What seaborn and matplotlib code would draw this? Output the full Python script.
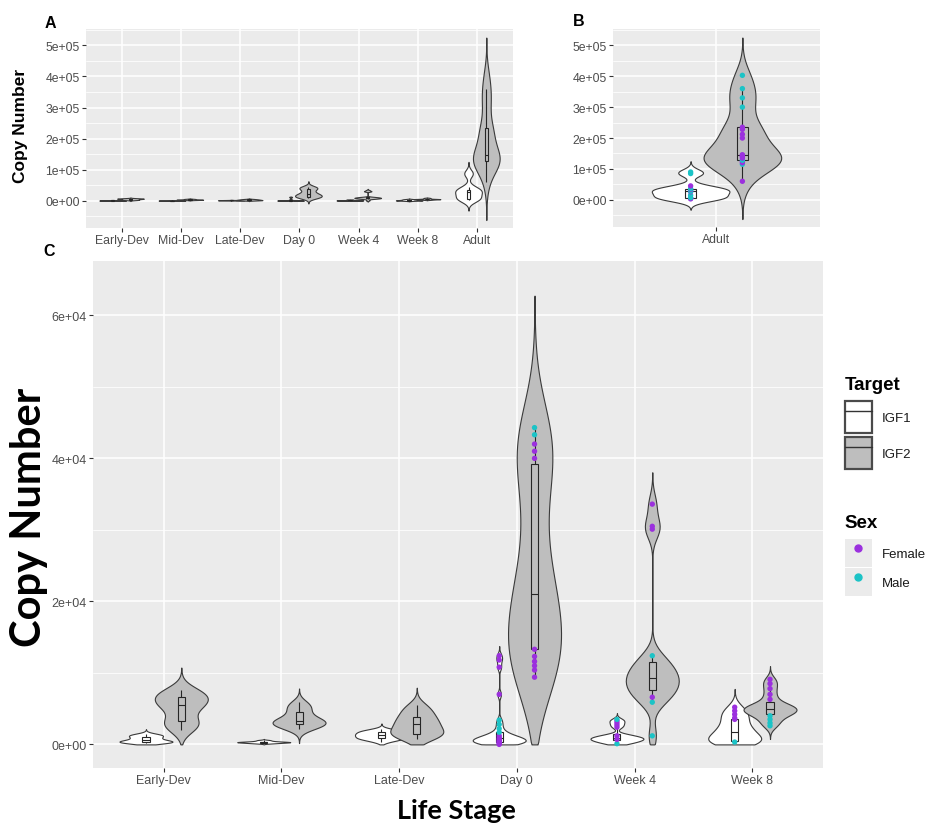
import numpy as np
import pandas as pd
import matplotlib
matplotlib.use("Agg")
import matplotlib.pyplot as plt
from matplotlib.collections import PolyCollection
from matplotlib.patches import Patch
from matplotlib.lines import Line2D
from matplotlib.ticker import MultipleLocator, FuncFormatter
import seaborn as sns

stages = ["Early-Dev", "Mid-Dev", "Late-Dev", "Day 0", "Week 4", "Week 8", "Adult"]
targets = ["IGF1", "IGF2"]
sexes = ["Female", "Male"]

# copy numbers
# sex codes: F = female, M = male, . = not recorded (no point drawn)
early_igf1 = [250, 300, 330, 360, 400, 600, 800, 1000, 1200, 1300, 1400]
early_igf2 = [2000, 2800, 3000, 3300, 5000, 5400, 5600, 6200, 6600, 6900, 7200, 7600]
mid_igf1 = [150, 200, 250, 280, 300, 320, 350, 380, 420, 500, 600]
mid_igf2 = [2100, 2500, 2700, 2800, 3000, 3200, 3300, 3500, 3900, 4500, 5000, 5400, 5900]
late_igf1 = [400, 700, 800, 900, 1000, 1200, 1300, 1400, 1500, 1700, 1800, 1900, 2100]
late_igf2 = [800, 1200, 1400, 1500, 1800, 2200, 2800, 3000, 3300, 3900, 4300, 4900, 5500]

day0_igf1 = [0, 60, 120, 180, 250, 300, 330, 380, 450, 520, 600, 650, 700, 800, 850,
             900, 1000, 1100, 1200, 1300, 1500, 1700, 2200, 2800, 3400, 7000, 10800,
             11800, 12400]
day0_igf1_sex = "F.F.F..F.F..F..F..F..MMMMFFFF"
day0_igf2 = [9400, 10400, 11000, 11600, 12300, 13300, 15500, 17000, 18500, 20000, 21100,
             23000, 26000, 30000, 34000, 39200, 40000, 41000, 42000, 43300, 44300]
day0_igf2_sex = "FFFFFF..........FFFMM"

week4_igf1 = [100, 200, 300, 400, 500, 600, 700, 750, 800, 850, 900, 1000, 1100, 1200,
              1300, 1400, 2400, 2700, 3000, 3300, 3500]
week4_igf1_sex = "M.....F......F..FFFFM"
week4_igf2 = [1200, 5900, 6600, 7000, 7600, 8200, 8600, 9000, 9300, 9800, 10500, 11000,
              11500, 12400, 30100, 30500, 33600]
week4_igf2_sex = "MMF..........MFFF"

week8_igf1 = [200, 330, 400, 450, 500, 700, 900, 1300, 1800, 2000, 2300, 2600, 3500,
              3700, 4200, 4700, 5200]
week8_igf1_sex = ".M..........FFFFF"
week8_igf2 = [2600, 3000, 3500, 4000, 4200, 4400, 4600, 4700, 4800, 5000, 5200, 5300,
              5500, 5600, 6300, 7000, 7800, 8500, 9100]
week8_igf2_sex = "MMMM..........FFFFF"

adult_igf1 = [3000, 5000, 6000, 7000, 15000, 26000, 28000, 31000, 34000, 36000, 45000,
              85000, 90000]
adult_igf1_sex = "FFFMMFMMFMFMM"
adult_igf2 = [60000, 115000, 120000, 125000, 128000, 135000, 140000, 143000, 146000,
              200000, 212000, 228000, 235000, 300000, 330000, 360000, 403000]
adult_igf2_sex = "FMFFMFFFFFFFFMMMM"

groups = [
    ("Early-Dev", "IGF1", early_igf1, None), ("Early-Dev", "IGF2", early_igf2, None),
    ("Mid-Dev", "IGF1", mid_igf1, None), ("Mid-Dev", "IGF2", mid_igf2, None),
    ("Late-Dev", "IGF1", late_igf1, None), ("Late-Dev", "IGF2", late_igf2, None),
    ("Day 0", "IGF1", day0_igf1, day0_igf1_sex), ("Day 0", "IGF2", day0_igf2, day0_igf2_sex),
    ("Week 4", "IGF1", week4_igf1, week4_igf1_sex), ("Week 4", "IGF2", week4_igf2, week4_igf2_sex),
    ("Week 8", "IGF1", week8_igf1, week8_igf1_sex), ("Week 8", "IGF2", week8_igf2, week8_igf2_sex),
    ("Adult", "IGF1", adult_igf1, adult_igf1_sex), ("Adult", "IGF2", adult_igf2, adult_igf2_sex),
]

sex_names = {"F": "Female", "M": "Male", ".": None}
rows = []
for stage, target, vals, codes in groups:
    codes = codes or "." * len(vals)
    for v, c in zip(vals, codes):
        rows.append((stage, target, v, sex_names[c]))
df = pd.DataFrame(rows, columns=["Stage", "Target", "Copy", "Sex"])

fills = {"IGF1": "white", "IGF2": "#BEBEBE"}
sex_colors = {"Female": "#9B30DE", "Male": "#1BC3C6"}
edge = "#3A3A3A"
dodge_off = {"IGF1": -0.15, "IGF2": 0.15}


def nrd0(kde):
    # ggplot's default bandwidth (bw.nrd0), as a factor of the sd
    x = kde.dataset[0]
    sd = x.std(ddof=1)
    q1, q3 = np.percentile(x, [25, 75])
    lo = min(sd, (q3 - q1) / 1.34)
    if lo <= 0:
        lo = sd
    return 0.9 * lo * len(x) ** -0.2 / sd


def draw_panel(ax, order, clip_zero, with_points):
    d = df[df["Stage"].isin(order)]
    sns.violinplot(data=d, x="Stage", y="Copy", hue="Target", order=order,
                   hue_order=targets, palette=fills, saturation=1, width=0.6, gap=-0.5,
                   inner=None, cut=3, bw_method=nrd0, density_norm="width",
                   linewidth=0.8, linecolor=edge, legend=False, ax=ax)
    if clip_zero:
        # y scale limited at 0 -> violins cut flat at zero
        for coll in ax.collections:
            if isinstance(coll, PolyCollection):
                verts = []
                for p in coll.get_paths():
                    v = p.vertices.copy()
                    v[:, 1] = np.maximum(v[:, 1], 0)
                    verts.append(v)
                coll.set_verts(verts)
    sns.boxplot(data=d, x="Stage", y="Copy", hue="Target", order=order,
                hue_order=targets, palette=fills, saturation=1, width=0.6, gap=0.8,
                showfliers=False, showcaps=False, linewidth=0.8, linecolor="#262626",
                legend=False, ax=ax)
    if with_points:
        pts = d.dropna(subset=["Sex"]).copy()
        pos = {s: i for i, s in enumerate(order)}
        pts["xpos"] = pts["Stage"].map(pos) + pts["Target"].map(dodge_off)
        sns.scatterplot(data=pts, x="xpos", y="Copy", hue="Sex", hue_order=sexes,
                        palette=sex_colors, s=15, linewidth=0, legend=False, ax=ax,
                        zorder=4)


def style(ax, n, ylim, major, fs):
    ax.set_xlim(-0.6, n - 0.4)
    ax.set_ylim(*ylim)
    ax.yaxis.set_major_locator(MultipleLocator(major))
    ax.yaxis.set_minor_locator(MultipleLocator(major / 2))
    ax.yaxis.set_major_formatter(FuncFormatter(lambda v, p: f"{v:.0e}"))
    ax.set_facecolor("#EBEBEB")
    ax.grid(True, which="major", color="white", linewidth=1.1)
    ax.grid(True, which="minor", axis="y", color="white", linewidth=0.55)
    ax.tick_params(which="major", length=3, width=0.8, color="#333333", labelsize=fs,
                   labelcolor="#4D4D4D", pad=1.5, bottom=True, left=True)
    ax.tick_params(which="minor", length=0, left=False, bottom=False)
    for sp in ax.spines.values():
        sp.set_visible(False)
    ax.set_axisbelow(True)
    ax.set_xlabel("")
    ax.set_ylabel("")


sns.set_theme(style="darkgrid")
plt.rcParams["font.family"] = ["Liberation Sans", "DejaVu Sans"]
plt.rcParams["text.color"] = "black"

W, H = 937, 828
fig = plt.figure(figsize=(W / 100, H / 100), dpi=100)


def add_ax(left, top, right, bottom):
    return fig.add_axes([left / W, 1 - bottom / H, (right - left) / W, (bottom - top) / H])


ax_a = add_ax(86, 30, 513, 229)
ax_b = add_ax(613, 30, 820, 228)
ax_c = add_ax(93, 262, 823, 769)

draw_panel(ax_a, stages, False, False)
draw_panel(ax_b, ["Adult"], False, True)
draw_panel(ax_c, stages[:6], True, True)

style(ax_a, 7, (-88000, 553000), 100000, 8.8)
style(ax_b, 1, (-88000, 553000), 100000, 8.8)
style(ax_c, 6, (-3300, 67600), 20000, 9)

# panel letters and axis titles
for x, y, t in [(50, 24, "A"), (579, 22, "B"), (49, 252, "C")]:
    fig.text(x / W, 1 - y / H, t, ha="center", va="center", fontsize=11.5, fontweight="bold")
fig.text(21 / W, 1 - 126 / H, "Copy Number", rotation=90, ha="center", va="center",
         fontsize=12.5, fontweight="bold")
fig.text(29 / W, 1 - 517 / H, "Copy Number", rotation=90, ha="center", va="center",
         fontsize=30, fontweight="bold", family=["Lato", "DejaVu Sans"])
fig.text(456 / W, 1 - 811 / H, "Life Stage", ha="center", va="center",
         fontsize=19.5, fontweight="bold", family=["Lato", "DejaVu Sans"])

# legends
target_handles = [(Patch(facecolor=fills[t], edgecolor="#4A4A4A", linewidth=1.6),
                   Line2D([], [], color="#333333", linewidth=1.0)) for t in targets]
leg1 = fig.legend(target_handles, targets, title="Target", loc="upper left",
                  bbox_to_anchor=(838 / W, 1 - 370 / H), frameon=False, fontsize=9.5,
                  title_fontproperties={"weight": "bold", "size": 13.5},
                  alignment="left", handlelength=2.1, handleheight=3.4,
                  labelspacing=0.25, handletextpad=0.7, borderpad=0)
leg1._legend_box.sep = 6
sex_handles = [(Patch(facecolor="#EBEBEB", edgecolor="none"),
                Line2D([], [], linestyle="", marker="o", markersize=5,
                       markerfacecolor=sex_colors[s], markeredgecolor=sex_colors[s]))
               for s in sexes]
leg2 = fig.legend(sex_handles, sexes, title="Sex", loc="upper left",
                  bbox_to_anchor=(838 / W, 1 - 508 / H), frameon=False, fontsize=9.5,
                  title_fontproperties={"weight": "bold", "size": 13.5},
                  alignment="left", handlelength=2.1, handleheight=2.9,
                  labelspacing=0.05, handletextpad=0.7, borderpad=0)
leg2._legend_box.sep = 6
for leg in (leg1, leg2):
    for t in leg.get_texts():
        t.set_color("#1A1A1A")

fig.savefig("out.png", dpi=100, facecolor="white")
